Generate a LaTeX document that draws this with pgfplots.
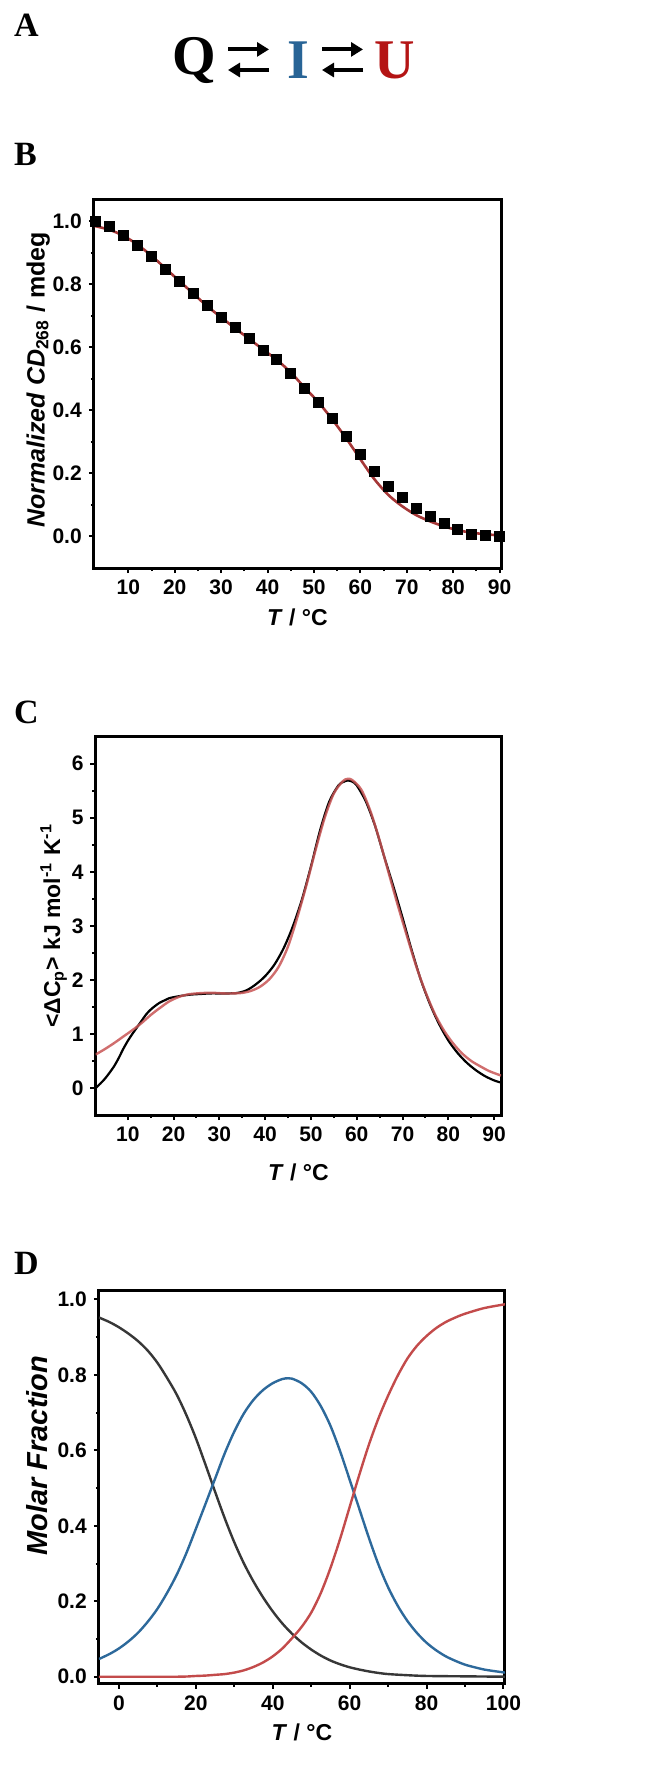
\documentclass[border=0pt]{standalone}
\usepackage{fontspec}
\setmainfont{Liberation Sans}
\newfontfamily\tnr{Liberation Serif}
\usepackage{pgfplots}
\pgfplotsset{compat=1.18}
\usetikzlibrary{arrows.meta}

\definecolor{fitred}{RGB}{165,55,55}
\definecolor{cred}{RGB}{200,85,85}
\definecolor{dgray}{RGB}{55,55,55}
\definecolor{dblue}{RGB}{45,105,155}
\definecolor{dred}{RGB}{195,75,75}
\definecolor{iblue}{RGB}{40,100,150}
\definecolor{ured}{RGB}{180,20,20}

\pgfplotsset{
  myaxis/.style={
    scale only axis,
    axis line style={line width=1.5pt},
    tick style={line width=1pt, black},
    tick align=outside,
    xtick pos=bottom, ytick pos=left,
    major tick length=2.6pt, minor tick length=1.6pt,
    minor x tick num=1, minor y tick num=1,
    ticklabel style={font=\bfseries\fontsize{10.5}{12}\selectfont},
    /pgf/number format/assume math mode=true,
    label style={font=\bfseries\fontsize{11.5}{13}\selectfont},
  }
}

\begin{document}
\begin{tikzpicture}
\useasboundingbox (0,0) rectangle (325.5pt,-889.5pt);

% Panel letters
\node[anchor=west, font=\tnr\bfseries\fontsize{17}{19}\selectfont] at (3.5pt,-12.5pt) {A};
\node[anchor=west, font=\tnr\bfseries\fontsize{17}{19}\selectfont] at (3.5pt,-77pt) {B};
\node[anchor=west, font=\tnr\bfseries\fontsize{17}{19}\selectfont] at (3.5pt,-356pt) {C};
\node[anchor=west, font=\tnr\bfseries\fontsize{17}{19}\selectfont] at (3.5pt,-631.5pt) {D};

% Scheme Q <=> I <=> U
\node[font=\tnr\bfseries\fontsize{28}{30}\selectfont] at (97.25pt,-30pt) {Q};
\node[font=\tnr\bfseries\fontsize{28}{30}\selectfont, text=iblue] at (149pt,-30pt) {I};
\node[font=\tnr\bfseries\fontsize{28}{30}\selectfont, text=ured] at (197.5pt,-30pt) {U};
\draw[line width=2pt, -{Triangle[length=6pt,width=7pt]}] (114pt,-24.7pt) -- (134.5pt,-24.7pt);
\draw[line width=2pt, -{Triangle[length=6pt,width=7pt]}] (134.5pt,-35pt) -- (114pt,-35pt);
\draw[line width=2pt, -{Triangle[length=6pt,width=7pt]}] (161pt,-24.7pt) -- (181.5pt,-24.7pt);
\draw[line width=2pt, -{Triangle[length=6pt,width=7pt]}] (181.5pt,-35pt) -- (161pt,-35pt);

% Panel B
\begin{axis}[myaxis,
  at={(47pt,-284pt)}, anchor=south west,
  width=203.5pt, height=184.5pt,
  xmin=2.6, xmax=90.3, ymin=-0.1, ymax=1.07,
  xtick={10,20,30,40,50,60,70,80,90},
  ytick={0,0.2,0.4,0.6,0.8,1.0},
  yticklabel style={/pgf/number format/.cd, fixed, fixed zerofill, precision=1},
  xlabel={\textit{T} / °C},
  ylabel={\textit{Normalized CD}\textsubscript{268} / mdeg},
  ylabel style={at={(ticklabel cs:0.51,-5.5pt)}, font=\bfseries\fontsize{12.5}{14}\selectfont},
]
\addplot[only marks, mark=square*, mark size=2.5pt, black] coordinates {
(3,1.000) (6,0.983) (9,0.955) (12,0.923) (15,0.888) (18,0.847) (21,0.808)
(24,0.770) (27,0.732) (30,0.694) (33,0.662) (36,0.627) (39,0.591) (42,0.561)
(45,0.517) (48,0.469) (51,0.424) (54,0.374) (57,0.316) (60,0.261) (63,0.206)
(66,0.158) (69,0.123) (72,0.090) (75,0.063) (78,0.042) (81,0.023) (84,0.007)
(87,0.002) (90,0.000)};
\addplot[smooth, line width=1.3pt, fitred] coordinates {
(2.6,0.985) (6,0.972) (9,0.953) (12,0.925) (15,0.890) (18,0.850) (21,0.810)
(24,0.770) (27,0.730) (30,0.695) (33,0.660) (36,0.627) (39,0.593) (42,0.560)
(45,0.520) (48,0.472) (51,0.425) (54,0.370) (57,0.310) (60,0.245) (63,0.182)
(66,0.132) (69,0.096) (72,0.068) (75,0.048) (78,0.032) (81,0.020) (84,0.012)
(87,0.007) (90.3,0.003)};
\end{axis}

% Panel C
\begin{axis}[myaxis,
  at={(47.85pt,-557.5pt)}, anchor=south west,
  width=202.65pt, height=189.15pt,
  xmin=3, xmax=91.5, ymin=-0.5, ymax=6.5,
  xtick={10,20,30,40,50,60,70,80,90},
  ytick={0,1,2,3,4,5,6},
  xlabel={\textit{T} / °C},
  xlabel style={yshift=-4pt},
  ylabel={<ΔC\textsubscript{p}> kJ mol\textsuperscript{-1} K\textsuperscript{-1}},
  ylabel style={at={(ticklabel cs:0.5,-4.5pt)}},
]
\addplot[smooth, line width=1.1pt, black] coordinates {
(3,0.00) (4,0.08) (5,0.17) (6,0.28) (7,0.40) (8,0.55) (9,0.72) (10,0.87)
(11,1.00) (12,1.12) (13,1.24) (14,1.36) (15,1.45) (16,1.52) (17,1.58) (18,1.62)
(19,1.66) (20,1.68) (22,1.71) (24,1.73) (26,1.74) (28,1.75) (30,1.75) (32,1.75)
(34,1.76) (36,1.81) (38,1.92) (40,2.07) (42,2.28) (44,2.58) (46,2.98) (48,3.48)
(50,4.10) (52,4.77) (54,5.30) (56,5.60) (57,5.66) (58,5.69) (59,5.67) (60,5.60)
(62,5.30) (64,4.85) (66,4.28) (68,3.73) (70,3.15) (72,2.55) (74,2.00) (76,1.55)
(78,1.18) (80,0.88) (82,0.65) (84,0.47) (86,0.33) (88,0.22) (90,0.14) (91.5,0.10)};
\addplot[smooth, line width=1.2pt, cred, opacity=0.85] coordinates {
(3,0.62) (5,0.72) (7,0.83) (9,0.95) (11,1.07) (13,1.20) (15,1.35) (17,1.48)
(19,1.60) (21,1.68) (23,1.73) (25,1.75) (27,1.76) (29,1.76) (31,1.75) (33,1.75)
(35,1.76) (37,1.80) (39,1.88) (41,2.02) (43,2.25) (45,2.62) (47,3.15) (49,3.75)
(51,4.40) (53,5.00) (55,5.45) (57,5.68) (58,5.72) (59,5.70) (61,5.52) (63,5.12)
(65,4.58) (67,3.97) (69,3.37) (71,2.80) (73,2.25) (75,1.78) (77,1.38) (79,1.07)
(81,0.83) (83,0.64) (85,0.50) (87,0.40) (89,0.31) (91.5,0.23)};
\end{axis}

% Panel D
\begin{axis}[myaxis,
  at={(49.5pt,-841.65pt)}, anchor=south west,
  width=203pt, height=196.3pt,
  xmin=-5.2, xmax=100.4, ymin=-0.0175, ymax=1.023,
  xtick={0,20,40,60,80,100},
  ytick={0,0.2,0.4,0.6,0.8,1.0},
  yticklabel style={/pgf/number format/.cd, fixed, fixed zerofill, precision=1},
  xlabel={\textit{T} / °C},
  ylabel={\textit{Molar Fraction}},
  ylabel style={at={(ticklabel cs:0.58,-2pt)}, font=\bfseries\fontsize{14.5}{16}\selectfont},
]
\addplot[smooth, line width=1.2pt, dgray] coordinates {
(-5.2,0.952) (-2.5,0.940) (0,0.926) (2.5,0.909) (5,0.889) (7.5,0.864) (10,0.832)
(12.5,0.792) (15,0.748) (17.5,0.694) (20,0.632) (22.5,0.562) (25,0.490)
(27.5,0.420) (30,0.356) (32.5,0.300) (35,0.252) (37.5,0.210) (40,0.173)
(42.5,0.141) (45,0.114) (47.5,0.091) (50,0.072) (52.5,0.056) (55,0.043)
(57.5,0.033) (60,0.025) (62.5,0.019) (65,0.014) (67.5,0.010) (70,0.007)
(75,0.004) (80,0.002) (90,0.001) (100.4,0.000)};
\addplot[smooth, line width=1.2pt, dblue] coordinates {
(-5.2,0.047) (-2.5,0.060) (0,0.075) (2.5,0.094) (5,0.117) (7.5,0.146) (10,0.180)
(12.5,0.222) (15,0.270) (17.5,0.327) (20,0.392) (22.5,0.458) (25,0.525)
(27.5,0.592) (30,0.650) (32.5,0.698) (35,0.734) (37.5,0.760) (40,0.778)
(42.5,0.789) (44,0.791) (45,0.790) (47.5,0.778) (50,0.755) (52.5,0.717)
(55,0.665) (57.5,0.598) (60,0.522) (62.5,0.445) (65,0.368) (67.5,0.297)
(70,0.237) (72.5,0.188) (75,0.148) (77.5,0.116) (80,0.090) (82.5,0.070)
(85,0.054) (87.5,0.042) (90,0.032) (92.5,0.025) (95,0.019) (97.5,0.015)
(100.4,0.011)};
\addplot[smooth, line width=1.2pt, dred] coordinates {
(-5.2,0.000) (15,0.000) (20,0.002) (22.5,0.003) (25,0.005) (27.5,0.007)
(30,0.011) (32.5,0.017) (35,0.026) (37.5,0.038) (40,0.054) (42.5,0.075)
(45,0.102) (47.5,0.132) (50,0.170) (52.5,0.222) (55,0.288) (57.5,0.365)
(60,0.450) (62.5,0.535) (65,0.615) (67.5,0.685) (70,0.745) (72.5,0.798)
(75,0.843) (77.5,0.877) (80,0.903) (82.5,0.924) (85,0.940) (87.5,0.952)
(90,0.962) (95,0.977) (100.4,0.987)};
\end{axis}
\end{tikzpicture}
\end{document}
